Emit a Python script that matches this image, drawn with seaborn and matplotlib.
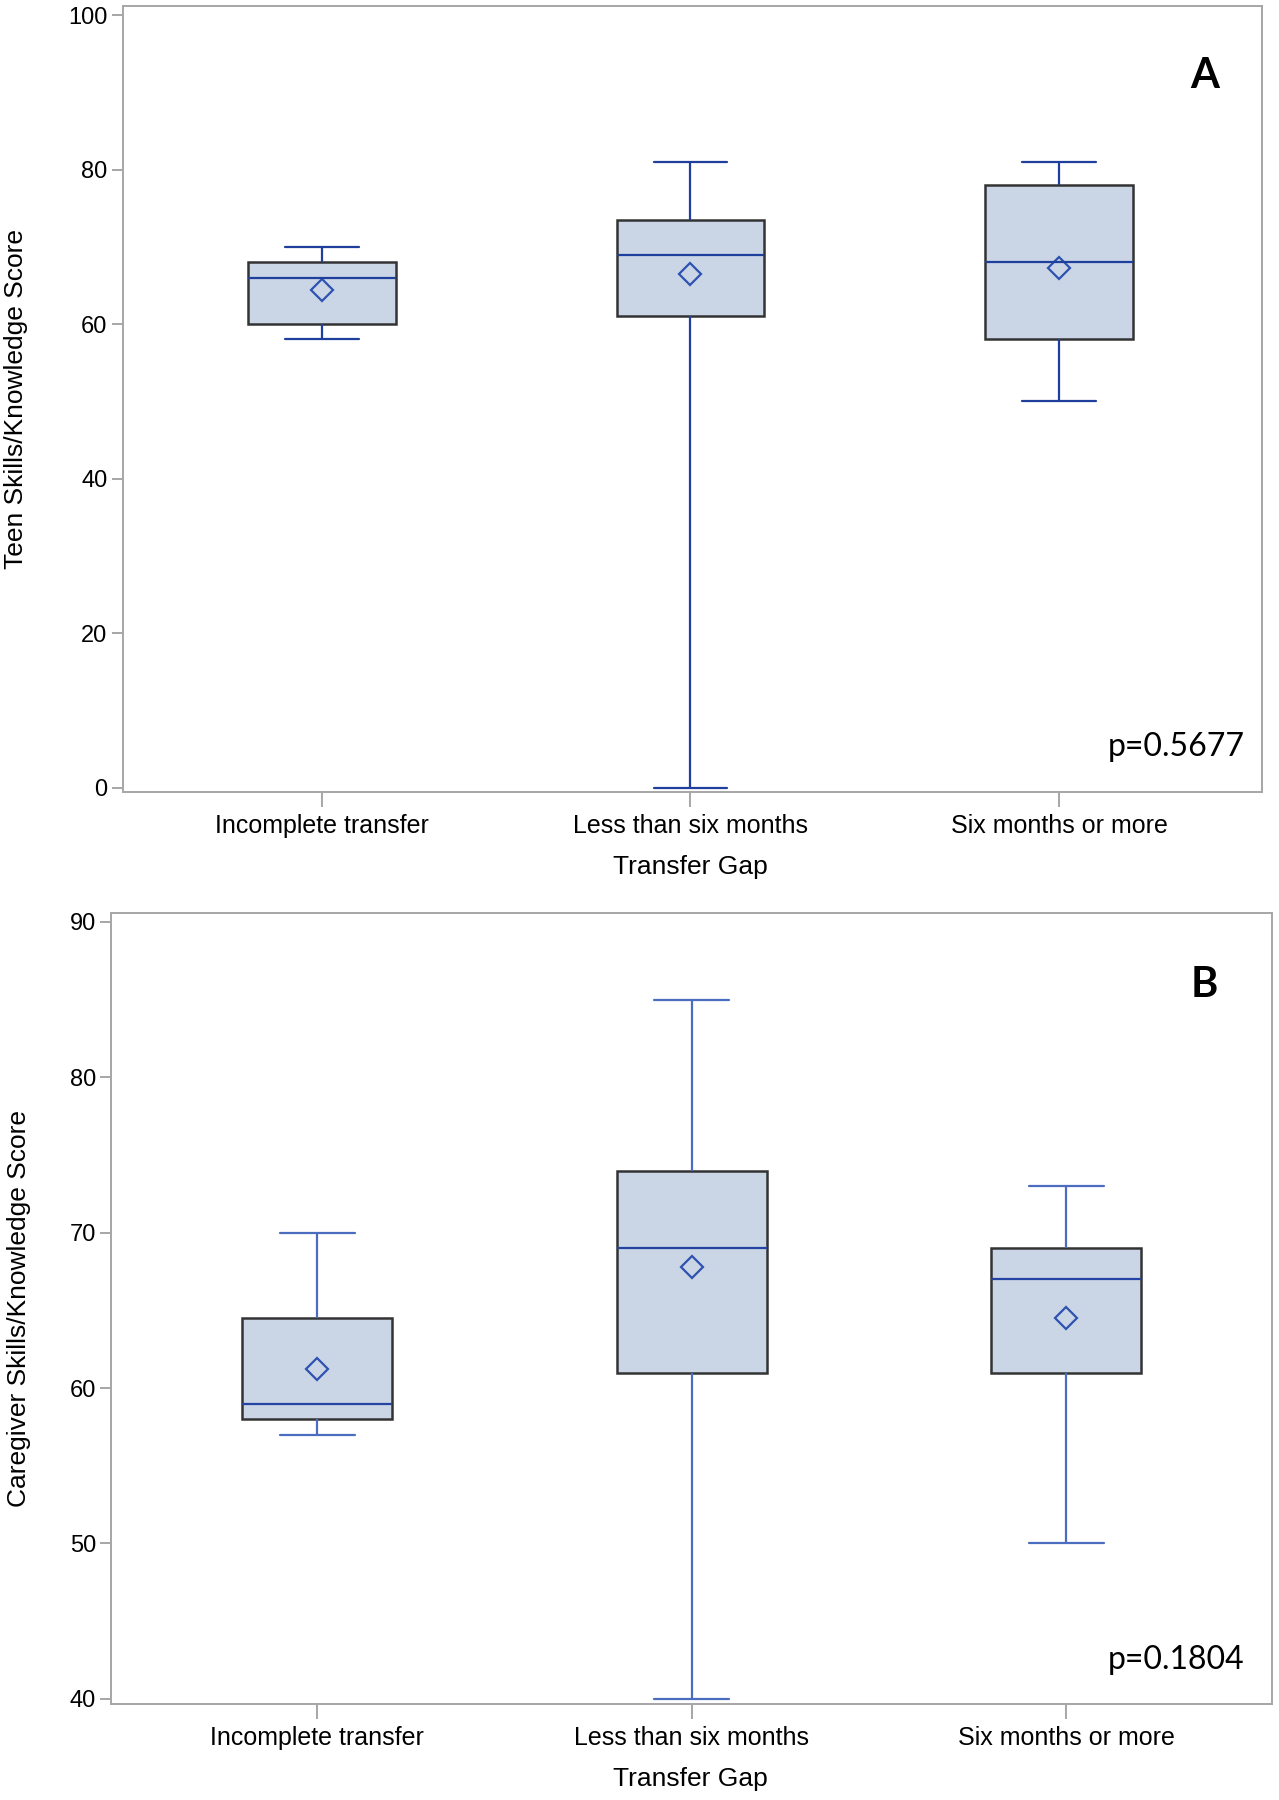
import numpy as np
import pandas as pd
import matplotlib
matplotlib.use("Agg")
import matplotlib.pyplot as plt
import seaborn as sns

# ---------------- data ----------------
categories = ["Incomplete transfer", "Less than six months", "Six months or more"]

teen_min = [58, 0, 50]
teen_q1 = [60, 61, 58]
teen_median = [66, 69, 68]
teen_q3 = [68, 73.5, 78]
teen_max = [70, 81, 81]
teen_mean = [64.4, 66.5, 67.2]

care_min = [57, 40, 50]
care_q1 = [58, 61, 61]
care_median = [59, 69, 67]
care_q3 = [64.5, 74, 69]
care_max = [70, 85, 73]
care_mean = [61.2, 67.8, 64.5]

teen_ticks = [0, 20, 40, 60, 80, 100]
care_ticks = [40, 50, 60, 70, 80, 90]

# ---------------- style ----------------
sns.set_style("white")
plt.rcParams["font.family"] = ["Liberation Sans", "DejaVu Sans"]
plt.rcParams["text.color"] = "black"

FILL = "#CAD5E6"
EDGE = "#333333"
BLUE_TOP = "#1F3F9C"
BLUE_BOT_W = "#4A6DC0"
BLUE_BOT_M = "#2443A3"
DIAMOND = "#2E52B0"
SPINE = "#A6A6A6"


def five_number_frame(mins, q1s, meds, q3s, maxs):
    rows = []
    for cat, a, b, c, d, e in zip(categories, mins, q1s, meds, q3s, maxs):
        for v in (a, b, c, d, e):
            rows.append({"Transfer Gap": cat, "Score": v})
    return pd.DataFrame(rows)


def draw_panel(ax, df, means, wcolor, mcolor, ylim, yticks, letter, ptext,
               letter_xy, p_xy):
    sns.boxplot(data=df, x="Transfer Gap", y="Score", order=categories,
                whis=(0, 100), width=0.4, color=FILL, saturation=1,
                linecolor=EDGE, linewidth=1.6, showfliers=False, ax=ax,
                boxprops={"edgecolor": EDGE, "linewidth": 1.8},
                medianprops={"color": mcolor, "linewidth": 1.6},
                whiskerprops={"color": wcolor, "linewidth": 1.6},
                capprops={"color": wcolor, "linewidth": 1.6})
    sns.pointplot(x=categories, y=means, order=categories, linestyle="none",
                  markers="D", color=DIAMOND, errorbar=None, ax=ax,
                  markersize=11, markerfacecolor="none",
                  markeredgecolor=DIAMOND, markeredgewidth=1.6)
    ax.set_ylim(*ylim)
    ax.set_yticks(yticks)
    ax.set_xlim(-0.54, 2.55)
    ax.set_xlabel("")
    ax.set_ylabel("")
    for s in ax.spines.values():
        s.set_visible(True)
        s.set_color(SPINE)
        s.set_linewidth(1.4)
    ax.tick_params(axis="both", which="major", bottom=True, left=True,
                   direction="out", color=SPINE, width=1.4,
                   labelcolor="black")
    ax.tick_params(axis="x", length=11, pad=5, labelsize=18)
    ax.tick_params(axis="y", length=8, pad=3, labelsize=17)
    ax.text(letter_xy[0], letter_xy[1], letter, transform=ax.transAxes,
            ha="center", va="center", fontsize=30, fontweight="bold",
            color="black", family=["Lato", "DejaVu Sans"])
    ax.text(p_xy[0], p_xy[1], ptext, transform=ax.transAxes,
            ha="right", va="center", fontsize=23, color="black",
            family=["Lato", "DejaVu Sans"])


fig = plt.figure(figsize=(12.79, 18), dpi=100)
ax1 = fig.add_axes([0.0960, 0.5599, 0.8906, 0.4369])
ax2 = fig.add_axes([0.0870, 0.0536, 0.9076, 0.4394])

draw_panel(ax1, five_number_frame(teen_min, teen_q1, teen_median, teen_q3, teen_max),
           teen_mean, BLUE_TOP, BLUE_TOP, (-0.6, 101.2), teen_ticks, "A",
           "p=0.5677", (0.950, 0.911), (0.985, 0.058))
draw_panel(ax2, five_number_frame(care_min, care_q1, care_median, care_q3, care_max),
           care_mean, BLUE_BOT_W, BLUE_BOT_M, (39.7, 90.6), care_ticks, "B",
           "p=0.1804", (0.942, 0.909), (0.976, 0.055))
ax2.set_xlim(-0.55, 2.55)

fig.text(0.0126, ax1.get_position().y0 + ax1.get_position().height / 2,
         "Teen Skills/Knowledge Score", rotation=90, ha="center", va="center",
         fontsize=19, color="black")
fig.text(0.0150, ax2.get_position().y0 + ax2.get_position().height / 2,
         "Caregiver Skills/Knowledge Score", rotation=90, ha="center",
         va="center", fontsize=19, color="black")
fig.text(0.540, 1 - 755 / 1568, "Transfer Gap", ha="center", va="center",
         fontsize=19, color="black")
fig.text(0.540, 1 - 1550 / 1568, "Transfer Gap", ha="center", va="center",
         fontsize=19, color="black")

fig.savefig("out.png", dpi=100, facecolor="white")
